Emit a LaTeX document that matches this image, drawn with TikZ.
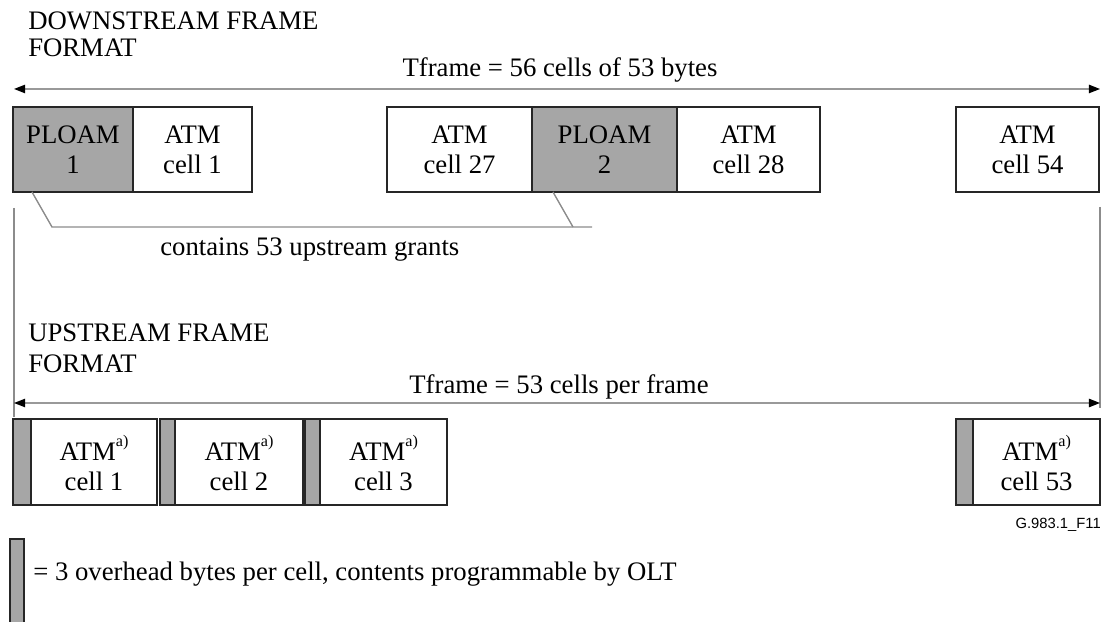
\documentclass[tikz,border=0pt]{standalone}
\usepackage{fontspec}
\setmainfont{Liberation Serif}
\newfontfamily\sansf{Liberation Sans}
\usetikzlibrary{arrows.meta}
\newcommand{\supa}{\smash{\raisebox{10.5pt}{\fontsize{11.5}{11.5}\selectfont a)}}}
\begin{document}
\begin{tikzpicture}[x=0.025cm,y=-0.025cm,
  every node/.style={font=\fontsize{19}{21.3}\selectfont},
  cellbox/.style={draw=black!85,line width=1.3pt,inner sep=0pt,align=center},
  dbox/.style={cellbox,minimum height=2.125cm},
  ubox/.style={cellbox,minimum height=2.15cm},
  shade/.style={fill=black!35},
  dim/.style={draw=black!40,line width=1.1pt,{Triangle[length=8pt,width=6pt,color=black]}-{Triangle[length=8pt,width=6pt,color=black]}},
  guide/.style={draw=black!45,line width=1pt},
  txt/.style={inner sep=0pt,anchor=base west},
  ctxt/.style={inner sep=0pt,anchor=base}
]
\useasboundingbox (0,0) rectangle (1104,622);

% ---------- downstream ----------
\node[txt] (dt1) at (28,30) {DOWNSTREAM FRAME};
\node[txt] (dt2) at (28,57) {FORMAT};
\coordinate (dl) at (14,89);
\coordinate (dr) at (1100,89);
\draw[dim] (dl) -- (dr);
\node[ctxt] (dlab) at (560,77) {Tframe = 56 cells of 53 bytes};

\node[dbox,shade,minimum width=3cm]     (p1)  at (73,149.5)    {PLOAM\\1};
\node[dbox,minimum width=2.975cm]       (a1)  at (192.5,149.5) {ATM\\cell 1};
\node[dbox,minimum width=3.625cm]       (a27) at (459.5,149.5) {ATM\\cell 27};
\node[dbox,shade,minimum width=3.625cm] (p2)  at (604.5,149.5) {PLOAM\\2};
\node[dbox,minimum width=3.575cm]       (a28) at (748.5,149.5) {ATM\\cell 28};
\node[dbox,minimum width=3.575cm]       (a54) at (1027.5,149.5) {ATM\\cell 54};

\coordinate (g1a) at (32,192);
\coordinate (g1b) at (52,227);
\coordinate (g1c) at (592,227);
\coordinate (g2a) at (553,192);
\coordinate (g2b) at (573,227);
\draw[guide] (g1a) -- (g1b) -- (g1c);
\draw[guide] (g2a) -- (g2b);
\node[txt] (grants) at (160,256) {contains 53 upstream grants};

% side lines
\coordinate (vl1) at (14,208);
\coordinate (vl2) at (14,417);
\coordinate (vr1) at (1100,207);
\coordinate (vr2) at (1100,408);
\draw[guide] (vl1) -- (vl2);
\draw[guide] (vr1) -- (vr2);

% ---------- upstream ----------
\node[txt] (ut1) at (28,342) {UPSTREAM FRAME};
\node[txt] (ut2) at (28,372) {FORMAT};
\coordinate (ul) at (14,403);
\coordinate (ur) at (1100,403);
\draw[dim] (ul) -- (ur);
\node[ctxt] (ulab) at (559,393) {Tframe = 53 cells per frame};

\node[ubox,shade,minimum width=0.45cm]  (s1)  at (22,462) {};
\node[ubox,minimum width=3.15cm]        (c1)  at (94,462) {\rule{0pt}{20pt}ATM\supa\\cell 1};
\node[ubox,shade,minimum width=0.375cm] (s2)  at (167.5,462) {};
\node[ubox,minimum width=3.2cm]         (c2)  at (239,462) {\rule{0pt}{20pt}ATM\supa\\cell 2};
\node[ubox,shade,minimum width=0.375cm] (s3)  at (312.5,462) {};
\node[ubox,minimum width=3.175cm]       (c3)  at (383.5,462) {\rule{0pt}{20pt}ATM\supa\\cell 3};
\node[ubox,shade,minimum width=0.425cm] (s53) at (964.5,462) {};
\node[ubox,minimum width=3.175cm]       (c53) at (1036.5,462) {\rule{0pt}{20pt}ATM\supa\\cell 53};

\node[anchor=base east,inner sep=0pt,font=\sansf\fontsize{10.5}{12}\selectfont] (fig) at (1101,528) {G.983.1\_F11};

% ---------- legend ----------
\node[cellbox,shade,minimum width=0.35cm,minimum height=2.275cm] (leg) at (17,584.5) {};
\node[txt] (legt) at (33,580) {= 3 overhead bytes per cell, contents programmable by OLT};
\end{tikzpicture}
\end{document}
